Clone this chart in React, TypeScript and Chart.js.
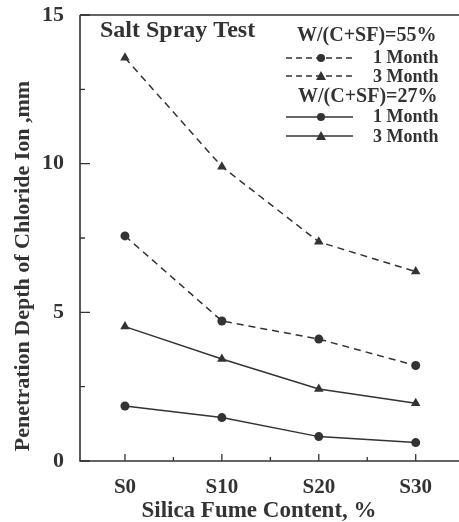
import React, { useEffect, useRef } from "react";
import { Chart, registerables } from "chart.js";
Chart.register(...registerables);

const categories = ["S0", "S10", "S20", "S30"];
const w55Month1 = [7.57, 4.71, 4.1, 3.21];
const w55Month3 = [13.56, 9.9, 7.37, 6.37];
const w27Month1 = [1.85, 1.46, 0.82, 0.62];
const w27Month3 = [4.52, 3.43, 2.42, 1.94];
const yTickValues = [0, 5, 10, 15];
const yMinorValues = [2.5, 7.5, 12.5];
const xMinorValues = [0.5, 1.5, 2.5];
const yTitle = "Penetration Depth of Chloride Ion ,mm";
const xTitle = "Silica Fume Content, %";
const boxTitle = "Salt Spray Test";
const groupLabels = ["W/(C+SF)=55%", "W/(C+SF)=27%"];
const monthLabels = ["1 Month", "3 Month"];

const INK = "#333333";
const FONT = "'Liberation Serif', 'Times New Roman', serif";
const DASH = [7, 5];

const decorPlugin = {
  id: "decor",
  afterDraw(chart: any) {
    const ctx = chart.ctx;
    const { left, top, bottom } = chart.chartArea;
    const W = chart.width;
    const xs = chart.scales.x;
    const ys = chart.scales.y;
    ctx.save();
    ctx.strokeStyle = INK;
    ctx.lineWidth = 1.6;
    ctx.setLineDash([]);
    ctx.beginPath();
    ctx.moveTo(left, top);
    ctx.lineTo(W, top);
    ctx.moveTo(left, top);
    ctx.lineTo(left, bottom);
    ctx.lineTo(W, bottom);
    ctx.stroke();
    ctx.lineWidth = 1.3;
    ctx.beginPath();
    categories.forEach((_, i) => {
      const px = xs.getPixelForValue(i);
      ctx.moveTo(px, bottom);
      ctx.lineTo(px, bottom - 7);
    });
    xMinorValues.forEach((v) => {
      const px = xs.getPixelForValue(v);
      ctx.moveTo(px, bottom);
      ctx.lineTo(px, bottom - 4);
    });
    yTickValues.forEach((v) => {
      const py = ys.getPixelForValue(v);
      ctx.moveTo(left, py);
      ctx.lineTo(left + 10, py);
    });
    yMinorValues.forEach((v) => {
      const py = ys.getPixelForValue(v);
      ctx.moveTo(left, py);
      ctx.lineTo(left + 5, py);
    });
    ctx.stroke();

    ctx.fillStyle = INK;
    ctx.textBaseline = "middle";
    ctx.font = `bold 23px ${FONT}`;
    ctx.textAlign = "center";
    ctx.fillText(xTitle, 259, 511);
    ctx.save();
    ctx.translate(23, 266);
    ctx.rotate(-Math.PI / 2);
    ctx.font = `bold 22px ${FONT}`;
    ctx.fillText(yTitle, 0, 0);
    ctx.restore();

    ctx.textAlign = "left";
    ctx.font = `bold 24px ${FONT}`;
    ctx.fillText(boxTitle, 100, 31);

    const drawSample = (y: number, dashed: boolean, tri: boolean) => {
      ctx.save();
      ctx.strokeStyle = INK;
      ctx.lineWidth = 1.3;
      ctx.setLineDash(dashed ? [6, 4] : []);
      ctx.beginPath();
      ctx.moveTo(286, y);
      ctx.lineTo(353, y);
      ctx.stroke();
      ctx.setLineDash([]);
      ctx.fillStyle = INK;
      ctx.beginPath();
      if (tri) {
        ctx.moveTo(321, y - 5);
        ctx.lineTo(326, y + 4);
        ctx.lineTo(316, y + 4);
        ctx.closePath();
      } else {
        ctx.arc(321, y, 4, 0, Math.PI * 2);
      }
      ctx.fill();
      ctx.restore();
    };
    ctx.font = `bold 20px ${FONT}`;
    ctx.fillText(groupLabels[0], 297, 36);
    ctx.fillText(groupLabels[1], 298, 97);
    ctx.font = `bold 18px ${FONT}`;
    ctx.fillText(monthLabels[0], 373, 58);
    ctx.fillText(monthLabels[1], 373, 77);
    ctx.fillText(monthLabels[0], 373, 117);
    ctx.fillText(monthLabels[1], 373, 137);
    drawSample(58, true, false);
    drawSample(76, true, true);
    drawSample(117, false, false);
    drawSample(136, false, true);
    ctx.restore();
  },
};

const toPts = (arr: number[]) => arr.map((y, i) => ({ x: i, y }));

export default function App() {
  const ref = useRef<HTMLCanvasElement>(null);
  useEffect(() => {
    if (!ref.current) return;
    const mk = (label: string, data: number[], dashed: boolean, tri: boolean) => ({
      label,
      data: toPts(data),
      borderColor: INK,
      backgroundColor: INK,
      borderWidth: 1.5,
      borderDash: dashed ? DASH : [],
      pointStyle: tri ? "triangle" : "circle",
      pointRadius: tri ? 5.5 : 4.5,
      pointBorderWidth: 0,
      tension: 0,
    });
    const chart = new Chart(ref.current, {
      type: "line",
      data: {
        datasets: [
          mk("55% 1 Month", w55Month1, true, false),
          mk("55% 3 Month", w55Month3, true, true),
          mk("27% 1 Month", w27Month1, false, false),
          mk("27% 3 Month", w27Month3, false, true),
        ],
      },
      options: {
        animation: false,
        responsive: false,
        devicePixelRatio: 1,
        layout: { padding: { top: 15, right: 0, bottom: 0, left: 0 } },
        plugins: { legend: { display: false }, tooltip: { enabled: false } },
        scales: {
          x: {
            type: "linear",
            min: -0.464,
            max: 3.39,
            afterBuildTicks: (s: any) => {
              s.ticks = categories.map((_, i) => ({ value: i }));
            },
            afterFit: (s: any) => {
              s.height = 61;
              s.paddingLeft = 0;
              s.paddingRight = 0;
            },
            ticks: {
              autoSkip: false,
              maxRotation: 0,
              padding: 14,
              color: INK,
              font: { family: FONT, size: 21, weight: "bold" },
              callback: (v: any) => categories[v] ?? "",
            },
            grid: { display: false, drawTicks: false },
            border: { display: false },
          },
          y: {
            min: 0,
            max: 15,
            afterBuildTicks: (s: any) => {
              s.ticks = yTickValues.map((v) => ({ value: v }));
            },
            afterFit: (s: any) => {
              s.width = 80;
              s.paddingTop = 0;
              s.paddingBottom = 0;
            },
            ticks: {
              padding: 16,
              color: INK,
              font: { family: FONT, size: 22, weight: "bold" },
            },
            grid: { display: false, drawTicks: false },
            border: { display: false },
          },
        },
      },
      plugins: [decorPlugin],
    } as any);
    return () => chart.destroy();
  }, []);
  return (
    <div style={{ position: "absolute", left: 0, top: 0, width: 459, height: 522, background: "#fff" }}>
      <canvas ref={ref} width={459} height={522} />
    </div>
  );
}
